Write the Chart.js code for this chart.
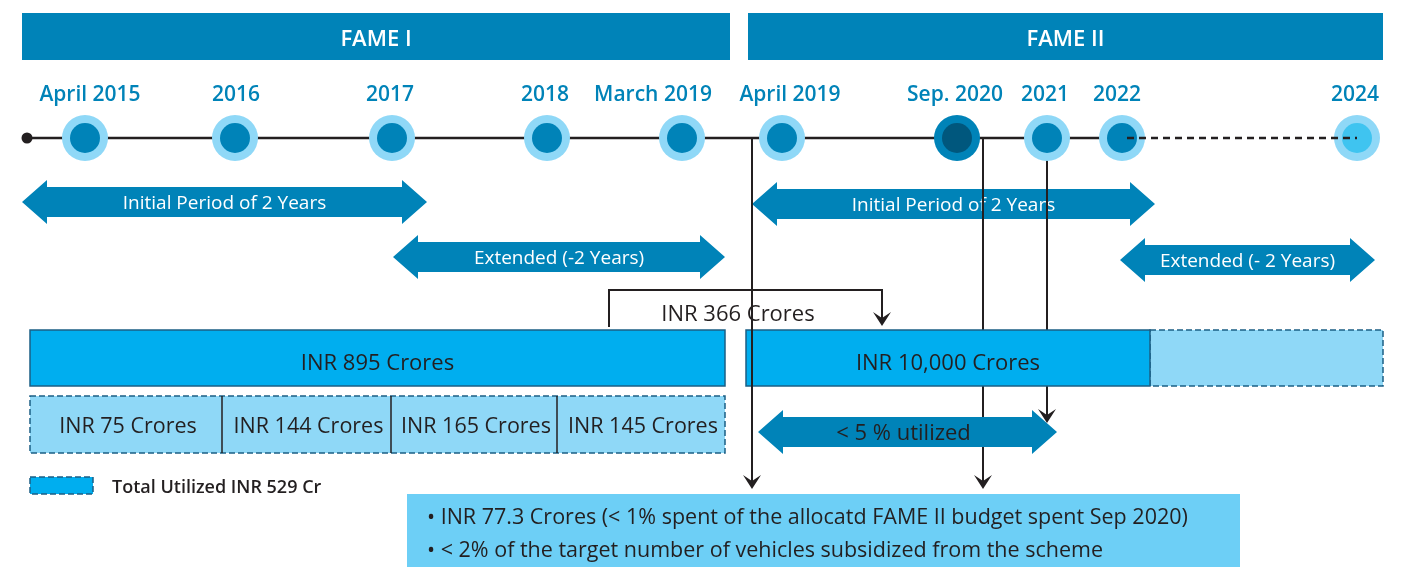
<!DOCTYPE html>
<html>
<head>
<meta charset="utf-8">
<script src="https://cdn.jsdelivr.net/npm/chart.js@4"></script>
<style>
  html, body { margin: 0; padding: 0; background: #fff; }
  #wrap { width: 1404px; height: 567px; position: relative; }
</style>
</head>
<body>
<div id="wrap"><canvas id="timeline"></canvas></div>
<script>
// Timeline of the FAME schemes - milestones, periods and budgets

// Phases (header bands)
const phaseNames = ['FAME I', 'FAME II'];
const phaseFrom = [22, 748];
const phaseTo = [730, 1383];

// Milestones along the timeline (axis units)
const milestoneLabels = ['April 2015', '2016', '2017', '2018', 'March 2019', 'April 2019', 'Sep. 2020', '2021', '2022', '2024'];
const milestonePos = [85, 235, 392, 547, 682, 782, 957, 1047, 1122, 1357];
const milestoneLabelPos = [90, 236, 390, 545, 653, 790, 955, 1045, 1117, 1355];
const currentMilestone = 'Sep. 2020';
const futureMilestone = '2024';

// Double-headed period arrows
const periodLabels = ['Initial Period of 2 Years', 'Extended (-2 Years)', 'Initial Period of 2 Years', 'Extended (- 2 Years)'];
const periodFrom = [22, 393, 752, 1120];
const periodTo = [427, 725, 1155, 1375];
const periodRow = [202, 257, 204, 260];

const utilLabel = '< 5 % utilized';
const utilFrom = 758;
const utilTo = 1057;

// Budgets
const budgetLabels = ['INR 895 Crores', 'INR 10,000 Crores'];
const budgetFrom = [30, 746];
const budgetTo = [725, 1150];
const budgetExtTo = [null, 1383];

// FAME I yearly utilisation
const trancheLabels = ['INR 75 Crores', 'INR 144 Crores', 'INR 165 Crores', 'INR 145 Crores'];
const trancheEdges = [30, 222, 391, 557, 725];

const transferLabel = 'INR 366 Crores';
const legendLabel = 'Total Utilized INR 529 Cr';
const noteLines = [
  '\u2022 INR 77.3 Crores (< 1% spent of the allocatd FAME II budget spent Sep 2020)',
  '\u2022 < 2% of the target number of vehicles subsidized from the scheme'
];

// Rows (y axis units, top = 0)
const ROW = {
  phaseTop: 13, phaseBottom: 60,
  label: 94, line: 138,
  budgetTop: 330, budgetBottom: 386,
  trancheTop: 396, trancheBottom: 453,
  transfer: 290, util: 432,
  legend: 486, noteTop: 494
};

// Colours
const C = {
  blue: '#0083b8',
  bright: '#00aeef',
  pale: '#8fd8f7',
  note: '#6dcff6',
  navy: '#00577d',
  future: '#3fc4f0',
  ink: '#231f20',
  edge: '#1b5f85'
};

const FONT = '"Open Sans", "DejaVu Sans", sans-serif';

function dashRect(ctx, x1, y1, x2, y2, fill, dash) {
  ctx.save();
  ctx.fillStyle = fill;
  ctx.fillRect(x1, y1, x2 - x1, y2 - y1);
  ctx.strokeStyle = C.edge;
  ctx.lineWidth = 1.5;
  ctx.setLineDash(dash ? [6, 3] : []);
  ctx.strokeRect(x1, y1, x2 - x1, y2 - y1);
  ctx.restore();
}

function doubleArrow(ctx, x1, x2, yc, fill) {
  const body = 15, head = 22, len = 25;
  ctx.beginPath();
  ctx.moveTo(x1, yc);
  ctx.lineTo(x1 + len, yc - head);
  ctx.lineTo(x1 + len, yc - body);
  ctx.lineTo(x2 - len, yc - body);
  ctx.lineTo(x2 - len, yc - head);
  ctx.lineTo(x2, yc);
  ctx.lineTo(x2 - len, yc + head);
  ctx.lineTo(x2 - len, yc + body);
  ctx.lineTo(x1 + len, yc + body);
  ctx.lineTo(x1 + len, yc + head);
  ctx.closePath();
  ctx.fillStyle = fill;
  ctx.fill();
}

function arrowHead(ctx, x, tipY) {
  ctx.beginPath();
  ctx.moveTo(x, tipY);
  ctx.lineTo(x - 9, tipY - 14);
  ctx.lineTo(x, tipY - 8);
  ctx.lineTo(x + 9, tipY - 14);
  ctx.closePath();
  ctx.fillStyle = C.ink;
  ctx.fill();
}

// Open Sans sits a little high on a 'middle' baseline, nudge it down
function text(ctx, str, x, y, font, color, align) {
  ctx.font = font;
  ctx.fillStyle = color;
  ctx.textAlign = align || 'center';
  ctx.textBaseline = 'middle';
  ctx.fillText(str, x, y + 2);
}

const diagram = {
  id: 'diagram',
  beforeDatasetsDraw(chart) {
    const { ctx, scales: { x, y } } = chart;
    const X = v => x.getPixelForValue(v);
    const Y = v => y.getPixelForValue(v);
    ctx.save();

    // header bands
    phaseNames.forEach((name, i) => {
      ctx.fillStyle = C.blue;
      ctx.fillRect(X(phaseFrom[i]), Y(ROW.phaseTop), X(phaseTo[i]) - X(phaseFrom[i]), Y(ROW.phaseBottom) - Y(ROW.phaseTop));
      text(ctx, name, (X(phaseFrom[i]) + X(phaseTo[i])) / 2, Y((ROW.phaseTop + ROW.phaseBottom) / 2 + 1), `600 22px ${FONT}`, '#fff');
    });

    // milestone labels
    milestoneLabels.forEach((m, i) => {
      text(ctx, m, X(milestoneLabelPos[i]), Y(ROW.label - 1), `600 21px ${FONT}`, C.blue);
    });

    // timeline solid part
    const last = milestoneLabels.indexOf('2022');
    ctx.strokeStyle = C.ink;
    ctx.lineWidth = 2.5;
    ctx.beginPath();
    ctx.moveTo(X(27), Y(ROW.line));
    ctx.lineTo(X(milestonePos[last]), Y(ROW.line));
    ctx.stroke();
    ctx.beginPath();
    ctx.arc(X(27), Y(ROW.line), 5.5, 0, Math.PI * 2);
    ctx.fillStyle = C.ink;
    ctx.fill();

    // period arrows
    periodLabels.forEach((p, i) => {
      doubleArrow(ctx, X(periodFrom[i]), X(periodTo[i]), Y(periodRow[i]), C.blue);
      text(ctx, p, (X(periodFrom[i]) + X(periodTo[i])) / 2, Y(periodRow[i]), `500 19px ${FONT}`, '#fff');
    });

    // drop lines from Sep 2020 and 2021
    ctx.strokeStyle = C.ink;
    ctx.lineWidth = 2;
    [[983, 489], [1047, 423]].forEach(([lx, ty]) => {
      ctx.beginPath();
      ctx.moveTo(X(lx), Y(ROW.line));
      ctx.lineTo(X(lx), Y(ty) - 6);
      ctx.stroke();
    });
    ctx.restore();
  },
  afterDatasetsDraw(chart) {
    const { ctx, scales: { x, y } } = chart;
    const X = v => x.getPixelForValue(v);
    const Y = v => y.getPixelForValue(v);
    ctx.save();

    // dashed future part of the timeline
    const a = milestoneLabels.indexOf('2022');
    const b = milestoneLabels.indexOf(futureMilestone);
    ctx.strokeStyle = C.ink;
    ctx.lineWidth = 2.5;
    ctx.setLineDash([7, 5]);
    ctx.beginPath();
    ctx.moveTo(X(milestonePos[a] + 5), Y(ROW.line));
    ctx.lineTo(X(milestonePos[b]), Y(ROW.line));
    ctx.stroke();
    ctx.setLineDash([]);

    // budgets
    budgetLabels.forEach((lbl, i) => {
      if (budgetExtTo[i] !== null) {
        dashRect(ctx, X(budgetTo[i]), Y(ROW.budgetTop), X(budgetExtTo[i]), Y(ROW.budgetBottom), C.pale, true);
      }
      dashRect(ctx, X(budgetFrom[i]), Y(ROW.budgetTop), X(budgetTo[i]), Y(ROW.budgetBottom), C.bright, false);
      text(ctx, lbl, (X(budgetFrom[i]) + X(budgetTo[i])) / 2, Y((ROW.budgetTop + ROW.budgetBottom) / 2 + 4), `500 22px ${FONT}`, C.ink);
    });

    // tranches
    const t0 = trancheEdges[0], tN = trancheEdges[trancheEdges.length - 1];
    dashRect(ctx, X(t0), Y(ROW.trancheTop), X(tN), Y(ROW.trancheBottom), C.pale, true);
    ctx.strokeStyle = C.ink;
    ctx.lineWidth = 1.5;
    trancheEdges.slice(1, -1).forEach(e => {
      ctx.beginPath();
      ctx.moveTo(X(e), Y(ROW.trancheTop));
      ctx.lineTo(X(e), Y(ROW.trancheBottom));
      ctx.stroke();
    });
    trancheLabels.forEach((lbl, i) => {
      text(ctx, lbl, (X(trancheEdges[i]) + X(trancheEdges[i + 1])) / 2 + 2, Y((ROW.trancheTop + ROW.trancheBottom) / 2), `500 21.5px ${FONT}`, C.ink);
    });

    // legend
    dashRect(ctx, X(30), Y(ROW.legend - 9), X(93), Y(ROW.legend + 8), C.bright, true);
    text(ctx, legendLabel, X(112), Y(ROW.legend), `600 18px ${FONT}`, C.ink, 'left');

    // utilisation arrow
    doubleArrow(ctx, X(utilFrom), X(utilTo), Y(ROW.util), C.blue);
    text(ctx, utilLabel, (X(utilFrom) + X(utilTo)) / 2 - 4, Y(ROW.util), `500 22px ${FONT}`, C.ink);

    // transfer of unspent FAME I money
    ctx.strokeStyle = C.ink;
    ctx.lineWidth = 2;
    ctx.beginPath();
    ctx.moveTo(X(609), Y(ROW.budgetTop - 3));
    ctx.lineTo(X(609), Y(ROW.transfer));
    ctx.lineTo(X(882), Y(ROW.transfer));
    ctx.lineTo(X(882), Y(318));
    ctx.stroke();
    arrowHead(ctx, X(882), Y(326));
    text(ctx, transferLabel, X(738), Y(313), `500 22px ${FONT}`, C.ink);

    // drop line from FAME II start (crosses budget bar)
    ctx.beginPath();
    ctx.moveTo(X(752), Y(ROW.line));
    ctx.lineTo(X(752), Y(483));
    ctx.stroke();
    arrowHead(ctx, X(752), Y(489));
    arrowHead(ctx, X(983), Y(489));
    arrowHead(ctx, X(1047), Y(423));

    // note box
    ctx.fillStyle = C.note;
    ctx.fillRect(X(407), Y(ROW.noteTop), X(1240) - X(407), Y(567) - Y(ROW.noteTop));
    noteLines.forEach((ln, i) => {
      text(ctx, ln, X(427), Y(516 + i * 33), `500 21.5px ${FONT}`, C.ink, 'left');
    });
    ctx.restore();
  }
};

const outerColors = milestoneLabels.map(m => m === currentMilestone ? C.blue : C.pale);
const innerColors = milestoneLabels.map(m => m === currentMilestone ? C.navy : (m === futureMilestone ? C.future : C.blue));

new Chart(document.getElementById('timeline'), {
  type: 'scatter',
  data: {
    datasets: [
      {
        label: 'core',
        data: milestonePos.map(p => ({ x: p, y: ROW.line })),
        pointRadius: 15,
        pointBackgroundColor: innerColors,
        pointBorderWidth: 0,
        order: 1
      },
      {
        label: 'ring',
        data: milestonePos.map(p => ({ x: p, y: ROW.line })),
        pointRadius: 23,
        pointBackgroundColor: outerColors,
        pointBorderWidth: 0,
        order: 2
      }
    ]
  },
  options: {
    responsive: true,
    maintainAspectRatio: false,
    animation: false,
    events: [],
    layout: { padding: 0, autoPadding: false },
    plugins: { legend: { display: false }, tooltip: { enabled: false } },
    scales: {
      x: { type: 'linear', min: 0, max: 1404, display: false },
      y: { type: 'linear', min: 0, max: 567, reverse: true, display: false }
    }
  },
  plugins: [diagram]
});
</script>
</body>
</html>
